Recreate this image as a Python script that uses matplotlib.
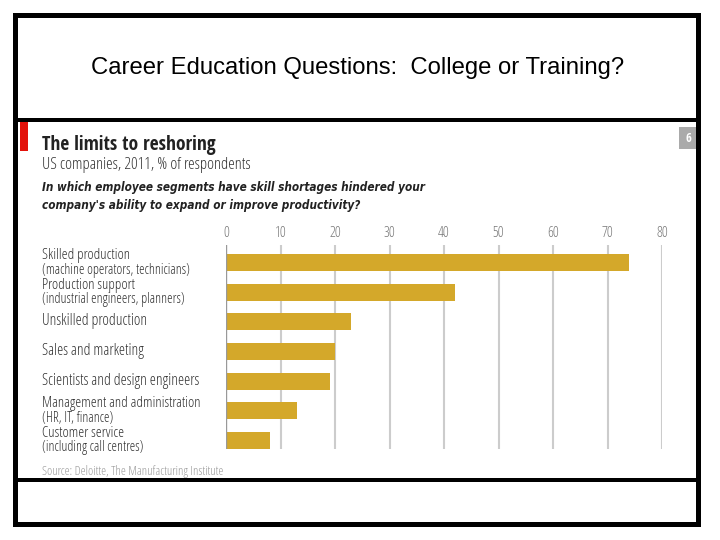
import matplotlib
matplotlib.use('Agg')
import matplotlib.pyplot as plt
import matplotlib.transforms as mtransforms
from matplotlib.patches import Rectangle

# data
categories = ['Skilled production', 'Production support', 'Unskilled production',
              'Sales and marketing', 'Scientists and design engineers',
              'Management and administration', 'Customer service']
subtitles = ['(machine operators, technicians)', '(industrial engineers, planners)',
             '', '', '', '(HR, IT, finance)', '(including call centres)']
values = [74, 42, 23, 20, 19, 13, 8]
xticks = [0, 10, 20, 30, 40, 50, 60, 70, 80]

W, H = 720, 540
GOLD = '#d4a82a'
# narrow fonts standing in for the economist face
LIGHT = dict(family='Open Sans', fontstretch='condensed', fontweight=300)
BOLD = dict(family='Open Sans Condensed', fontweight=700)
BOLDIT = dict(family='DejaVu Sans', fontstretch='condensed', fontweight='bold',
              style='oblique')

fig = plt.figure(figsize=(W / 100, H / 100), dpi=100)


def fx(x):
    return x / W


def fy(y):
    return 1 - y / H


def box(x0, y0, x1, y1, color):
    fig.add_artist(Rectangle((fx(x0), fy(y1)), fx(x1) - fx(x0), fy(y0) - fy(y1),
                             transform=fig.transFigure, color=color, lw=0))


# slide frame
box(13, 13, 701, 18, 'black')
box(13, 522, 701, 527, 'black')
box(13, 13, 18, 527, 'black')
box(696, 13, 701, 527, 'black')
box(13, 118, 701, 122, 'black')
box(13, 478, 701, 482, 'black')

fig.text(fx(358), fy(68), 'Career Education Questions:  College or Training?',
         family='Liberation Sans', fontsize=17.2, ha='center', va='center')

# economist style header
box(20, 122, 28, 151, '#e3120b')
box(679, 127, 696, 149, '#aaaaaa')
fig.text(fx(688), fy(138), '6', color='white', fontsize=9, ha='center', va='center',
         **BOLD)

fig.text(fx(42), fy(145), 'The limits to reshoring', fontsize=14,
         color='#222222', va='center', **BOLD)
fig.text(fx(42), fy(165), 'US companies, 2011, % of respondents',
         fontsize=12, color='#333333', va='center', **LIGHT)
fig.text(fx(42), fy(188), 'In which employee segments have skill shortages hindered your',
         fontsize=8.5, color='#222222', va='center', **BOLDIT)
fig.text(fx(42), fy(205), "company's ability to expand or improve productivity?",
         fontsize=8.5, color='#222222', va='center', **BOLDIT)
fig.text(fx(42), fy(471), 'Source: Deloitte, The Manufacturing Institute',
         fontsize=9, color='#999999', va='center', **LIGHT)

# bar chart
ax = fig.add_axes([fx(226), fy(449), fx(662) - fx(226), fy(245) - fy(449)])
ypos = list(range(len(categories)))
ax.barh(ypos, values, height=0.575, color=GOLD, zorder=2)
ax.set_xlim(0, 80)
ax.set_ylim(len(categories) - 1 + 0.29, -0.6)
ax.set_xticks(xticks)
ax.set_yticks([])
ax.xaxis.set_ticks_position('top')
ax.tick_params(axis='x', length=0, pad=3, labelcolor='#777777')
for lab in ax.get_xticklabels():
    lab.set_family('Open Sans')
    lab.set_stretch('condensed')
    lab.set_weight(300)
    lab.set_fontsize(10.5)
for s in ax.spines.values():
    s.set_visible(False)
for t in xticks[1:]:
    ax.axvline(t, color='#cccccc', lw=1.5, zorder=1)
ax.axvline(0, color='#999999', lw=1, zorder=3)
ax.patch.set_alpha(0)

trans = mtransforms.blended_transform_factory(fig.transFigure, ax.transData)
for y, name, sub in zip(ypos, categories, subtitles):
    if sub:
        ax.text(fx(42), y - 0.24, name, transform=trans, fontsize=10.8,
                color='#333333', va='center', **LIGHT)
        ax.text(fx(42), y + 0.25, sub, transform=trans, fontsize=10,
                color='#333333', va='center', **LIGHT)
    else:
        ax.text(fx(42), y - 0.02, name, transform=trans, fontsize=11.2,
                color='#333333', va='center', **LIGHT)

fig.savefig('out.png', dpi=100, facecolor='white')
